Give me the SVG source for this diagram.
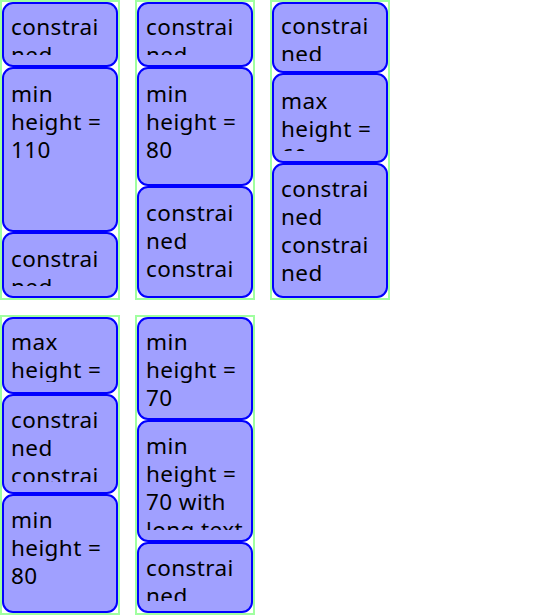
<svg xmlns="http://www.w3.org/2000/svg" width="540" height="615" viewBox="0 0 540 615">
<style>
.c{fill:none;stroke:#a0ffa0;stroke-width:2}
.b{fill:#a0a0ff;stroke:#0000ff;stroke-width:2}
text{font-family:"Noto Sans","Open Sans",sans-serif;font-size:22.5px;letter-spacing:0.4px;fill:#000}
</style>
<defs>
<clipPath id="k1a"><rect x="0" y="14" width="120" height="41"/></clipPath>
<clipPath id="k1b"><rect x="0" y="79" width="120" height="141"/></clipPath>
<clipPath id="k1c"><rect x="0" y="244" width="120" height="42"/></clipPath>
<clipPath id="k2a"><rect x="135" y="14" width="120" height="41"/></clipPath>
<clipPath id="k2b"><rect x="135" y="79" width="120" height="95"/></clipPath>
<clipPath id="k2c"><rect x="135" y="198" width="120" height="88"/></clipPath>
<clipPath id="k3a"><rect x="270" y="14" width="120" height="47"/></clipPath>
<clipPath id="k3b"><rect x="270" y="85" width="120" height="66"/></clipPath>
<clipPath id="k3c"><rect x="270" y="175" width="120" height="111"/></clipPath>
<clipPath id="k4a"><rect x="0" y="329" width="120" height="53"/></clipPath>
<clipPath id="k4b"><rect x="0" y="406" width="120" height="76"/></clipPath>
<clipPath id="k4c"><rect x="0" y="506" width="120" height="95"/></clipPath>
<clipPath id="k5a"><rect x="135" y="329" width="120" height="79"/></clipPath>
<clipPath id="k5b"><rect x="135" y="432" width="120" height="98"/></clipPath>
<clipPath id="k5c"><rect x="135" y="554" width="120" height="47"/></clipPath>
</defs>
<g id="container1">
<rect class="c" x="1" y="1" width="118" height="298"/>
<g id="c1a"><rect class="b" x="3" y="3" width="114" height="63" rx="10"/><text clip-path="url(#k1a)"><tspan x="11" y="35">constrai</tspan><tspan x="11" y="63">ned</tspan></text></g>
<g id="c1b"><rect class="b" x="3" y="68" width="114" height="163" rx="10"/><text clip-path="url(#k1b)"><tspan x="11" y="101.5">min</tspan><tspan x="11" y="129.5">height =</tspan><tspan x="11" y="157.5">110</tspan></text></g>
<g id="c1c"><rect class="b" x="3" y="233" width="114" height="64" rx="10"/><text clip-path="url(#k1c)"><tspan x="11" y="266.5">constrai</tspan><tspan x="11" y="294.5">ned</tspan></text></g>
</g>
<g id="container2">
<rect class="c" x="136" y="1" width="118" height="298"/>
<g id="c2a"><rect class="b" x="138" y="3" width="114" height="63" rx="10"/><text clip-path="url(#k2a)"><tspan x="146" y="35">constrai</tspan><tspan x="146" y="63">ned</tspan></text></g>
<g id="c2b"><rect class="b" x="138" y="68" width="114" height="117" rx="10"/><text clip-path="url(#k2b)"><tspan x="146" y="101.5">min</tspan><tspan x="146" y="129.5">height =</tspan><tspan x="146" y="157.5">80</tspan></text></g>
<g id="c2c"><rect class="b" x="138" y="187" width="114" height="110" rx="10"/><text clip-path="url(#k2c)"><tspan x="146" y="220.5">constrai</tspan><tspan x="146" y="248.5">ned</tspan><tspan x="146" y="276.5">constrai</tspan></text></g>
</g>
<g id="container3">
<rect class="c" x="271" y="1" width="118" height="298"/>
<g id="c3a"><rect class="b" x="273" y="3" width="114" height="69" rx="10"/><text clip-path="url(#k3a)"><tspan x="281" y="34">constrai</tspan><tspan x="281" y="62">ned</tspan></text></g>
<g id="c3b"><rect class="b" x="273" y="74" width="114" height="88" rx="10"/><text clip-path="url(#k3b)"><tspan x="281" y="108.5">max</tspan><tspan x="281" y="136.5">height =</tspan><tspan x="281" y="164.5">60</tspan></text></g>
<g id="c3c"><rect class="b" x="273" y="164" width="114" height="133" rx="10"/><text clip-path="url(#k3c)"><tspan x="281" y="197">constrai</tspan><tspan x="281" y="225">ned</tspan><tspan x="281" y="253">constrai</tspan><tspan x="281" y="281">ned</tspan></text></g>
</g>
<g id="container4">
<rect class="c" x="1" y="316" width="118" height="298"/>
<g id="c4a"><rect class="b" x="3" y="318" width="114" height="75" rx="10"/><text clip-path="url(#k4a)"><tspan x="11" y="350">max</tspan><tspan x="11" y="378">height =</tspan></text></g>
<g id="c4b"><rect class="b" x="3" y="395" width="114" height="98" rx="10"/><text clip-path="url(#k4b)"><tspan x="11" y="428">constrai</tspan><tspan x="11" y="456">ned</tspan><tspan x="11" y="484">constrai</tspan></text></g>
<g id="c4c"><rect class="b" x="3" y="495" width="114" height="117" rx="10"/><text clip-path="url(#k4c)"><tspan x="11" y="528">min</tspan><tspan x="11" y="556">height =</tspan><tspan x="11" y="584">80</tspan></text></g>
</g>
<g id="container5">
<rect class="c" x="136" y="316" width="118" height="298"/>
<g id="c5a"><rect class="b" x="138" y="318" width="114" height="101" rx="10"/><text clip-path="url(#k5a)"><tspan x="146" y="350">min</tspan><tspan x="146" y="378">height =</tspan><tspan x="146" y="406">70</tspan></text></g>
<g id="c5b"><rect class="b" x="138" y="421" width="114" height="120" rx="10"/><text clip-path="url(#k5b)"><tspan x="146" y="454">min</tspan><tspan x="146" y="482">height =</tspan><tspan x="146" y="510">70 with</tspan><tspan x="146" y="538">long text</tspan></text></g>
<g id="c5c"><rect class="b" x="138" y="543" width="114" height="69" rx="10"/><text clip-path="url(#k5c)"><tspan x="146" y="576">constrai</tspan><tspan x="146" y="604">ned</tspan></text></g>
</g>
<g id="connectors"/>
</svg>
